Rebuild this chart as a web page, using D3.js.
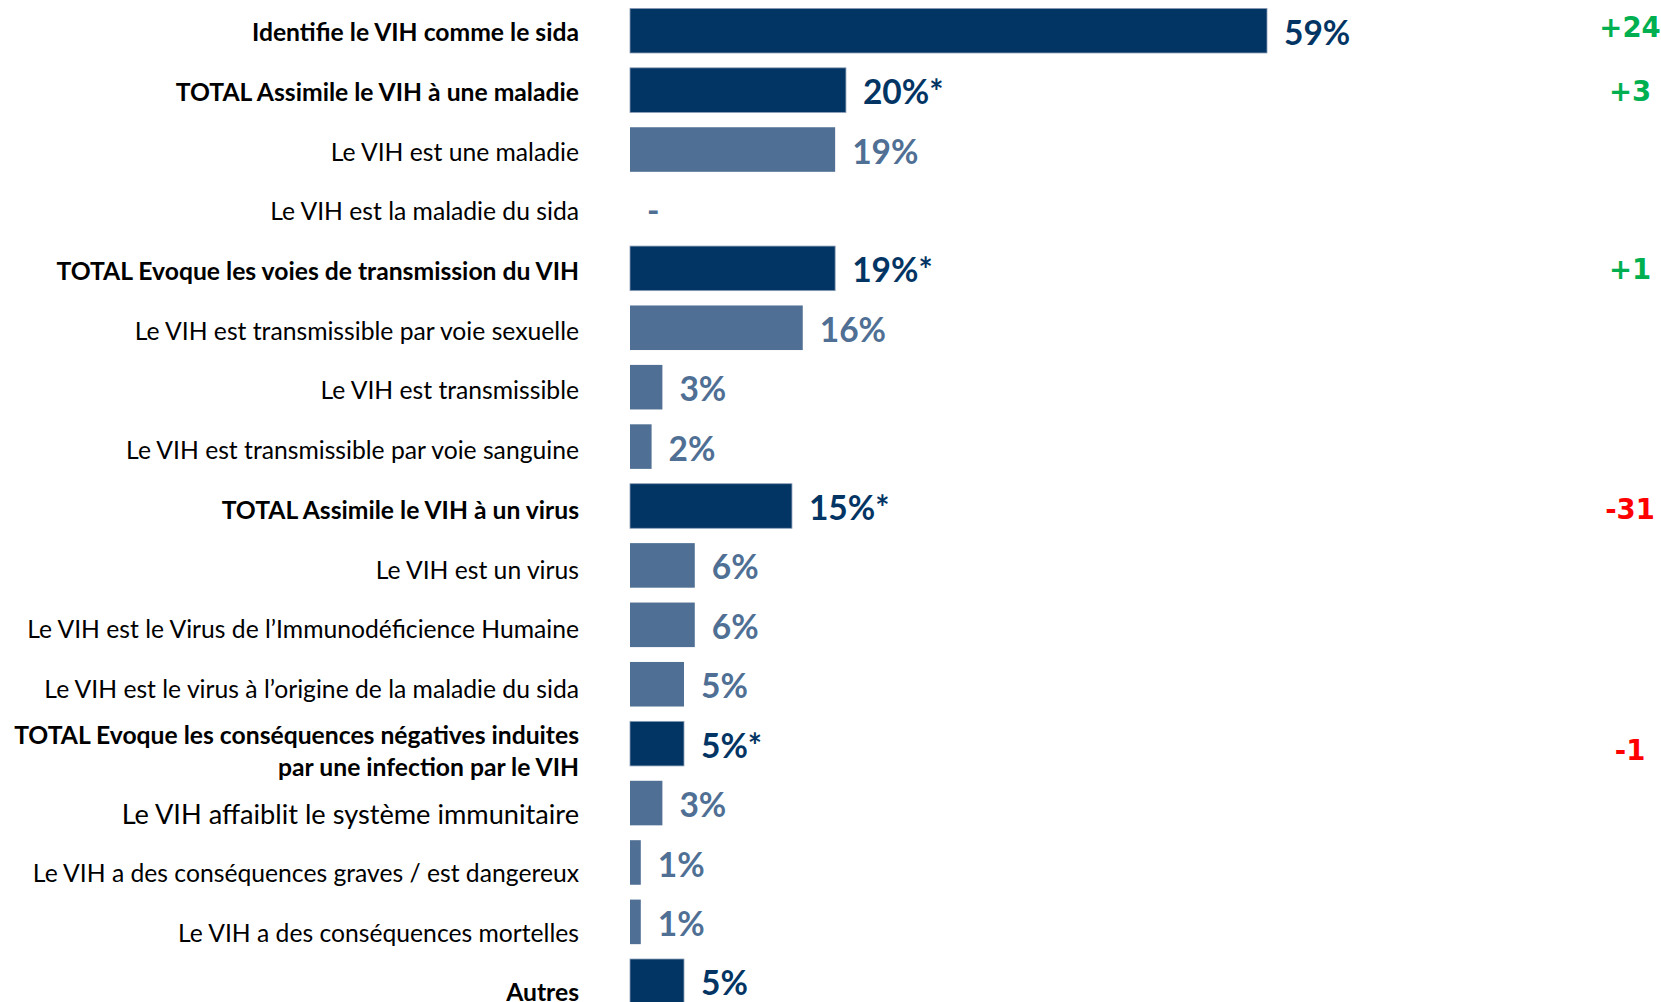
<!DOCTYPE html>
<html>
<head>
<meta charset="utf-8">
<script src="https://cdn.jsdelivr.net/npm/d3@7"></script>
<style>
  html, body { margin: 0; padding: 0; background: #fff; }
  svg { display: block; }
</style>
</head>
<body>
<svg id="chart" width="1661" height="1002"></svg>
<script>
const categories = [
  "Identifie le VIH comme le sida",
  "TOTAL Assimile le VIH à une maladie",
  "Le VIH est une maladie",
  "Le VIH est la maladie du sida",
  "TOTAL Evoque les voies de transmission du VIH",
  "Le VIH est transmissible par voie sexuelle",
  "Le VIH est transmissible",
  "Le VIH est transmissible par voie sanguine",
  "TOTAL Assimile le VIH à un virus",
  "Le VIH est un virus",
  "Le VIH est le Virus de l’Immunodéficience Humaine",
  "Le VIH est le virus à l’origine de la maladie du sida",
  "TOTAL Evoque les conséquences négatives induites|par une infection par le VIH",
  "Le VIH affaiblit le système immunitaire",
  "Le VIH a des conséquences graves / est dangereux",
  "Le VIH a des conséquences mortelles",
  "Autres"
];
const values  = [59, 20, 19, null, 19, 16, 3, 2, 15, 6, 6, 5, 5, 3, 1, 1, 5];
const isTotal = [true, true, false, false, true, false, false, false, true, false, false, false, true, false, false, false, true];
const starred = [false, true, false, false, true, false, false, false, true, false, false, false, true, false, false, false, false];
const deltas  = [24, 3, null, null, 1, null, null, null, -31, null, null, null, -1, null, null, null, null];

const width = 1661, height = 1002;
const svg = d3.select("#chart");

const dark = "#033564", light = "#4f6f94";

const y = d3.scaleBand()
    .domain(d3.range(categories.length))
    .range([1, 1011])
    .paddingInner(0.25)
    .paddingOuter(0.125);

const x = d3.scaleLinear()
    .domain([0, 59])
    .range([630, 1267]);

// labels in the source sit a little low, more so near the bottom
const labelShift = i => i >= 13 ? 11 : (i === 12 ? 7 : 1.5 + i * 0.3);

const rows = svg.append("g").selectAll("g")
  .data(categories.map((c, i) => ({c, i, v: values[i], total: isTotal[i], star: starred[i], delta: deltas[i]})))
  .enter().append("g")
    .attr("transform", d => `translate(0,${y(d.i) + y.bandwidth() / 2})`);

// category labels
rows.append("text")
    .attr("x", 579)
    .attr("text-anchor", "end")
    .style("font-family", "Lato, sans-serif")
    .style("font-weight", d => d.total ? 700 : 400)
    .style("font-size", d => d.i === 13 ? "27.2px" : "24.7px")
    .style("fill", "#000")
    .each(function (d) {
      const lines = d.c.split("|");
      const t = d3.select(this);
      const lh = 32;
      lines.forEach((ln, k) => {
        t.append("tspan")
          .attr("x", 579)
          .attr("y", (k - (lines.length - 1) / 2) * lh + labelShift(d.i))
          .attr("dy", "0.36em")
          .text(ln);
      });
    });

// bars
rows.filter(d => d.v !== null).append("rect")
    .attr("x", x(0))
    .attr("y", -y.bandwidth() / 2)
    .attr("width", d => x(d.v) - x(0))
    .attr("height", y.bandwidth())
    .attr("fill", d => d.total ? dark : light)
    .attr("stroke", d => d.total ? "#8a9cb5" : "none")
    .attr("stroke-width", 0.8);

// value labels
rows.append("text")
    .attr("x", d => x(d.v || 0) + 17)
    .attr("y", 2)
    .attr("dy", "0.36em")
    .style("font-family", "Lato, sans-serif")
    .style("font-weight", 700)
    .style("font-size", "33.5px")
    .style("fill", d => d.total ? dark : light)
    .text(d => d.v === null ? "-" : `${d.v}%${d.star ? "*" : ""}`);

// evolution
rows.filter(d => d.delta !== null).append("text")
    .attr("x", 1630)
    .attr("y", d => d.i === 0 ? -4 : (d.i === 12 ? 6 : (d.i === 8 ? 3 : 1)))
    .attr("dy", "0.36em")
    .attr("text-anchor", "middle")
    .style("font-family", "'DejaVu Sans', sans-serif")
    .style("font-weight", 700)
    .style("font-size", "27.5px")
    .style("fill", d => d.delta > 0 ? "#00b050" : "#ff0000")
    .text(d => (d.delta > 0 ? "+" : "-") + Math.abs(d.delta));
</script>
</body>
</html>
